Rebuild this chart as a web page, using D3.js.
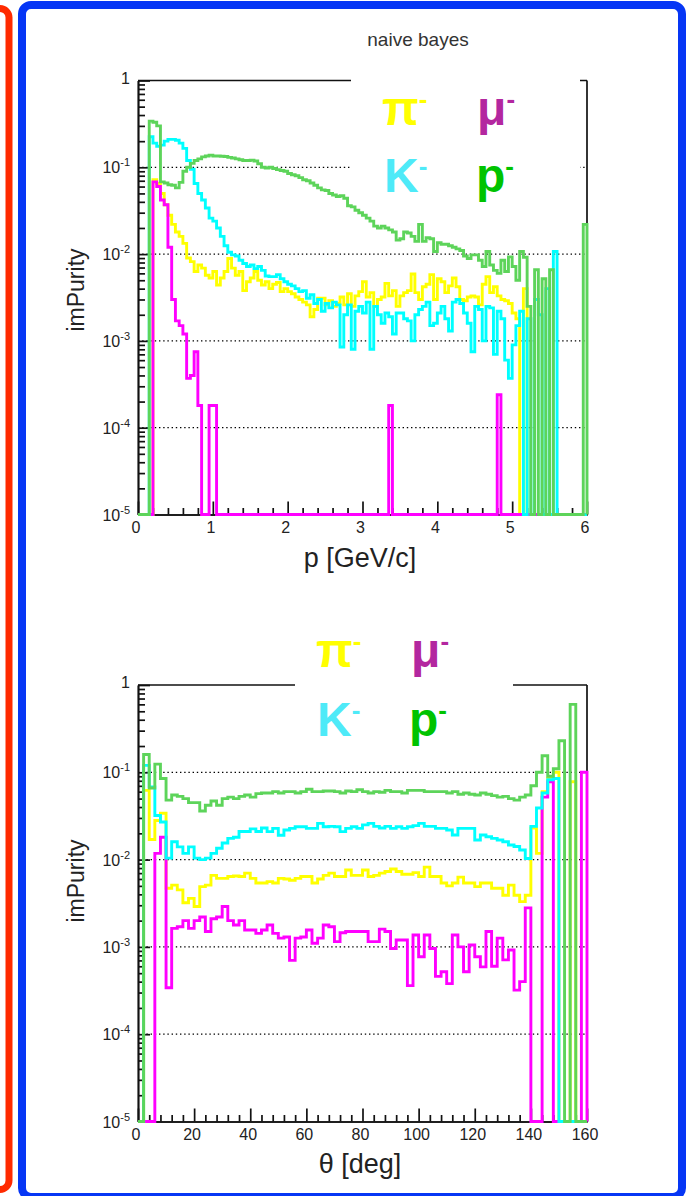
<!DOCTYPE html>
<html>
<head>
<meta charset="utf-8">
<script src="https://cdn.jsdelivr.net/npm/d3@7/dist/d3.min.js"></script>
<style>
html,body{margin:0;padding:0;background:#fff;}
svg{display:block;font-family:"Liberation Sans",Arial,Helvetica,sans-serif;}
</style>
</head>
<body>
<svg id="chart" width="687" height="1196"></svg>
<script>
// ---------- data ----------
const momentumRange = [0, 6];          // GeV/c, 120 bins
const thetaRange = [0, 160];           // deg, 80 bins
const impurityRange = [1e-5, 1];
const momentumTicks = [0, 1, 2, 3, 4, 5, 6];
const thetaTicks = [0, 20, 40, 60, 80, 100, 120, 140, 160];
const decadeExponents = [0, -1, -2, -3, -4, -5];

// impurity vs momentum
const pionVsP = [0,0,0,0,
 0.072,0.065,0.05,0.037,0.028,0.022,0.018,0.016,0.0133,0.009,0.0082,0.0063,0.0075,0.0069,0.0057,0.0053,
 0.0063,0.0044,0.0053,0.0063,0.0089,0.0069,0.0057,0.0063,0.0038,0.0048,0.0053,0.0063,0.005,0.0044,0.0048,0.004,
 0.0045,0.0047,0.0037,0.004,0.0037,0.0035,0.0032,0.003,0.0028,0.0026,0.0019,0.0023,0.0031,0.0031,0.0026,0.0029,
 0.0025,0.0027,0.0032,0.0026,0.0035,0.0025,0.0033,0.0037,
 0.0048,0.0032,0.0036,0.0025,0.003,0.0032,0.0046,0.0033,0.0038,0.0025,0.0033,0.0036,0.0038,0.0059,0.0036,0.003,
 0.0042,0.0045,0.0058,0.003,0.0052,0.0048,0.0036,0.0043,0.0053,0.0042,0.003,0.0029,0.0032,0.0033,0.0032,0.0026,
 0.0045,0.0055,0.0036,0.0042,0.0033,0.003,0.0029,0.0027,0.0021,0.0018,
 0,0.004,
 0,0,0,0,0,0,0,0,0,0,0,0,0,0,0,0];
const muonVsP = [0,0,0,0,
 0.068,0.06,0.042,0.037,0.012,0.003,0.0017,0.0015,0.0012,0.00037,0.0004,0.00075,0.00018,0,0,0.00018,0.00018,
 0,0,0,0,0,0,0,0,0,0,0,0,0,0,0,0,0,0,0,0,0,0,0,0,0,0,0,0,0,0,0,0,0,0,0,0,0,0,0,0,0,0,0,0,0,0,
 0.00018,
 0,0,0,0,0,0,0,0,0,0,0,0,0,0,0,0,0,0,0,0,0,0,0,0,0,0,0,0,
 0.00024,
 0,0,0,0,0,0,0,0,0,0,0,0,0,0,0,0,0,0,0,0,0,0,0];
const kaonVsP = [0,0,0,
 0.225,0.19,0.175,0.18,0.2,0.21,0.21,0.205,0.19,0.165,0.12,0.095,0.065,0.05,0.042,0.034,0.026,0.024,0.02,0.016,
 0.0125,0.0105,0.0098,0.0095,0.0085,0.0078,0.0072,0.0075,0.0068,0.0072,0.0065,0.0056,0.0055,0.0055,0.0058,0.0052,
 0.0048,0.0045,0.0043,0.004,0.0037,0.0038,0.0031,0.0034,0.0027,0.003,0.0022,0.0027,0.0024,0.0028,0.0026,0.00085,
 0.002,0.0026,0.0008,0.0022,0.0025,
 0.0021,0.0028,0.0008,0.0025,0.002,0.0016,0.0021,0.0019,0.0012,0.0021,0.0021,0.0018,0.0017,0.001,0.002,0.0023,
 0.0025,0.0028,0.0015,0.0016,0.0021,0.0025,0.0018,0.0013,0.0028,0.003,0.0027,0.0021,0.0016,0.00075,0.0025,0.0023,
 0.001,0.0025,0.0024,0.0007,0.0022,0.0018,0.0006,0.00037,0.0009,0.0015,0.0022,0,0.0018,0,0.003,0.002,0,0.004,0,0.0107,
 0,0,0,0,0,0,0,0];
const protonVsP = [0,0,0,
 0.34,0.33,0.30,0.068,0.066,0.063,0.062,0.058,0.067,0.09,0.1,0.111,0.12,0.125,0.132,0.135,0.138,0.135,0.135,0.134,
 0.133,0.13,0.128,0.125,0.122,0.12,0.12,0.121,0.118,0.11,0.1,0.098,0.1,0.097,0.094,0.092,0.09,0.085,0.082,0.08,
 0.076,0.072,0.07,0.066,0.062,0.058,0.055,0.054,0.05,0.048,0.046,0.047,0.044,0.036,0.035,0.032,0.03,
 0.028,0.026,0.024,0.021,0.02,0.021,0.02,0.019,0.018,0.0145,0.015,0.018,0.0175,0.016,0.014,0.022,0.014,0.0155,
 0.015,0.0107,0.0135,0.013,0.013,0.0125,0.012,0.0115,0.011,0.0095,0.0089,0.0098,0.0098,0.0085,0.0072,0.0107,
 0.0075,0.0065,0.006,0.0085,0.0063,0.0093,0.0072,0.005,0.0107,0.0092,0.0025,0,0.0066,0,0.0052,0,0.0066,0,
 0,0,0,0,0,0,0,
 0.022];

// impurity vs polar angle
const pionVsTheta = [0,0.062,0.017,0.028,0.034,0.0047,0.0051,0.0045,0.0032,0.0036,
 0.0029,0.0049,0.0051,0.0066,0.0061,0.0061,0.0064,0.0065,0.0064,0.007,
 0.0061,0.0054,0.0054,0.0056,0.0054,0.0061,0.006,0.0058,0.0061,0.0064,
 0.0064,0.0054,0.006,0.0066,0.007,0.0064,0.0064,0.0076,0.0066,0.0066,
 0.0076,0.0064,0.0066,0.007,0.0073,0.0078,0.0073,0.0068,0.0068,0.0071,
 0.0064,0.0082,0.0064,0.0064,0.0054,0.005,0.0054,0.0063,0.0054,0.0054,
 0.0049,0.0054,0.0054,0.0047,0.0047,0.0039,0.0051,0.0039,0.0033,0.0039,
 0.023,0.0118,0.06,0.085,0.1,0,0,0.078,0,0];
const muonVsTheta = [0,0,0,0.0118,0.018,0.00034,0.00163,0.0017,0.002,0.00163,
 0.002,0.0022,0.0015,0.0021,0.0022,0.0029,0.002,0.00178,0.002,0.00156,
 0.00156,0.00143,0.00156,0.00178,0.00143,0.00126,0.0013,0.0007,0.00126,0.0013,
 0.00156,0.0011,0.00126,0.00178,0.0017,0.00115,0.00145,0.0015,0.0015,0.0015,
 0.0015,0.00115,0.00115,0.0016,0.0015,0.00096,0.0012,0.0012,0.00036,0.00137,
 0.00077,0.00137,0.00096,0.00046,0.00052,0.00038,0.00137,0.001,0.00052,0.00105,
 0.00077,0.00059,0.0015,0.0006,0.00126,0.00071,0.00092,0.00032,0.0004,0.0028,
 0,0,0.052,0.078,0,0,0,0,0,0.1];
const kaonVsTheta = [0,0.12,0.068,0.032,0.027,0.0104,0.016,0.014,0.0118,0.014,
 0.0104,0.01,0.0104,0.0118,0.0135,0.0155,0.0175,0.018,0.021,0.021,
 0.0225,0.021,0.023,0.0209,0.0228,0.019,0.0218,0.0228,0.0238,0.0238,
 0.0228,0.0228,0.026,0.0238,0.024,0.0238,0.0209,0.0228,0.0238,0.0228,
 0.025,0.026,0.024,0.023,0.024,0.0228,0.0238,0.0228,0.0238,0.0245,
 0.026,0.024,0.024,0.0228,0.0228,0.0218,0.0191,0.0228,0.0228,0.0228,
 0.0168,0.0191,0.0183,0.0175,0.0168,0.016,0.0147,0.0141,0.0129,0.0103,
 0.024,0.039,0.058,0.082,0.085,0,0,0,0,0];
const protonVsTheta = [0,0.16,0.066,0.124,0.085,0.048,0.055,0.053,0.05,0.045,
 0.045,0.036,0.042,0.047,0.042,0.05,0.052,0.05,0.053,0.055,
 0.052,0.057,0.058,0.058,0.06,0.058,0.06,0.06,0.058,0.06,
 0.064,0.06,0.06,0.061,0.061,0.06,0.058,0.061,0.06,0.063,
 0.06,0.058,0.06,0.059,0.062,0.06,0.06,0.058,0.062,0.062,
 0.062,0.06,0.06,0.06,0.06,0.058,0.06,0.056,0.058,0.056,
 0.055,0.058,0.056,0.054,0.052,0.053,0.05,0.048,0.052,0.055,
 0.07,0.10,0.155,0.09,0.11,0.23,0,0.6,0,0];

const legendLabels = ["π", "μ", "K", "p"];

// ---------- styling ----------
const lineColors = { pion: "#ffff00", muon: "#ff00ff", kaon: "#00ffff", proton: "#5dd45a" };
const legendColors = { pion: "#ffff00", muon: "#b3279f", kaon: "#4eeaf8", proton: "#00c300" };

const svg = d3.select("#chart");

// outer slide frames
svg.append("rect").attr("x", -60).attr("y", 8.5).attr("width", 69).attr("height", 1181)
  .attr("rx", 9).attr("fill", "none").attr("stroke", "#ff2a00").attr("stroke-width", 7);
svg.append("rect").attr("x", 22).attr("y", 5).attr("width", 660).attr("height", 1192)
  .attr("rx", 9).attr("fill", "none").attr("stroke", "#0636f5").attr("stroke-width", 8);

svg.append("text").attr("x", 418).attr("y", 46).attr("text-anchor", "middle")
  .attr("font-size", 19).attr("fill", "#333").text("naive bayes");

function drawPanel(cfg) {
  const g = svg.append("g");
  const x = d3.scaleLinear().domain(cfg.xDomain).range([cfg.left, cfg.right]);
  const y = d3.scaleLog().domain(impurityRange).range([cfg.bottom, cfg.top]);
  const floor = impurityRange[0];

  // dotted grid at decades
  const gridDecades = decadeExponents.filter(e => e < 0 && e > -5).map(e => Math.pow(10, e));
  g.append("g").selectAll("line").data(gridDecades).join("line")
    .attr("x1", cfg.left).attr("x2", cfg.right)
    .attr("y1", d => y(d)).attr("y2", d => y(d))
    .attr("stroke", "#000").attr("stroke-width", 1.2).attr("stroke-dasharray", "1.4,2.8");

  // frame: top and right edges
  g.append("line").attr("x1", cfg.left).attr("x2", cfg.right).attr("y1", cfg.top).attr("y2", cfg.top)
    .attr("stroke", "#111").attr("stroke-width", 1.7);
  g.append("line").attr("x1", cfg.right).attr("x2", cfg.right).attr("y1", cfg.top).attr("y2", cfg.bottom)
    .attr("stroke", "#111").attr("stroke-width", 1.7);

  // y axis: major and minor ticks pointing into the frame
  const minorY = [];
  for (let e = -5; e < 0; e++) for (let m = 2; m <= 9; m++) minorY.push(m * Math.pow(10, e));
  const yAxisMajor = d3.axisLeft(y).tickValues(decadeExponents.map(e => Math.pow(10, e)))
    .tickSizeInner(-12).tickSizeOuter(0).tickFormat("");
  const yAxisMinor = d3.axisLeft(y).tickValues(minorY).tickSizeInner(-7).tickSizeOuter(0).tickFormat("");
  const ya = g.append("g").attr("transform", `translate(${cfg.left},0)`).call(yAxisMajor);
  const ym = g.append("g").attr("transform", `translate(${cfg.left},0)`).call(yAxisMinor);
  [ya, ym].forEach(a => { a.selectAll("line,path").attr("stroke", "#111").attr("stroke-width", 1.7); });

  // x axis: major and minor ticks pointing up
  const minorX = d3.range(cfg.xDomain[0], cfg.xDomain[1] + 1e-9, cfg.minorStep)
    .filter(v => !cfg.xTicks.some(t => Math.abs(t - v) < 1e-6));
  const xa = g.append("g").attr("transform", `translate(0,${cfg.bottom})`)
    .call(d3.axisBottom(x).tickValues(cfg.xTicks).tickSizeInner(-13).tickSizeOuter(0).tickFormat(""));
  const xm = g.append("g").attr("transform", `translate(0,${cfg.bottom})`)
    .call(d3.axisBottom(x).tickValues(minorX).tickSizeInner(-6.5).tickSizeOuter(0).tickFormat(""));
  [xa, xm].forEach(a => { a.selectAll("line,path").attr("stroke", "#111").attr("stroke-width", 1.7); });

  // tick labels
  decadeExponents.forEach(e => {
    const t = g.append("text").attr("x", cfg.left - 8)
      .attr("y", y(Math.pow(10, e)) + (e === 0 ? 3 : 6))
      .attr("text-anchor", "end").attr("font-size", 16).attr("fill", "#222");
    if (e === 0) t.text("1");
    else {
      t.append("tspan").text("10");
      t.append("tspan").attr("dy", -7).attr("font-size", 11).text(String(e));
    }
  });
  g.append("g").selectAll("text").data(cfg.xTicks).join("text")
    .attr("x", d => x(d) - 2).attr("y", cfg.bottom + 18)
    .attr("text-anchor", "middle").attr("font-size", 16).attr("fill", "#222")
    .text(d => String(d));

  // axis titles
  g.append("text").attr("x", 360).attr("y", cfg.xTitleY).attr("text-anchor", "middle")
    .attr("font-size", 27).attr("fill", "#222").text(cfg.xTitle);
  g.append("text").attr("transform", `translate(84,${cfg.yTitleMid}) rotate(-90)`)
    .attr("text-anchor", "middle").attr("font-size", 23).attr("fill", "#222").text("imPurity");

  // histograms as step outlines
  const clipId = "clip" + cfg.id;
  svg.append("clipPath").attr("id", clipId).append("rect")
    .attr("x", cfg.left).attr("y", cfg.top - 2).attr("width", cfg.right - cfg.left + 2)
    .attr("height", cfg.bottom - cfg.top + 3.5);
  const nb = cfg.series[0].values.length;
  const edge = i => cfg.xDomain[0] + (cfg.xDomain[1] - cfg.xDomain[0]) * i / nb;
  const line = d3.line().x(d => x(d[0])).y(d => y(Math.max(d[1], floor))).curve(d3.curveStepAfter);
  const hg = g.append("g").attr("clip-path", `url(#${clipId})`);
  cfg.series.forEach(s => {
    const pts = [[edge(0), floor]];
    s.values.forEach((v, i) => pts.push([edge(i), v]));
    pts.push([edge(nb), s.values[nb - 1]]);
    pts.push([edge(nb), floor]);
    hg.append("path").attr("d", line(pts)).attr("fill", "none")
      .attr("stroke", s.color).attr("stroke-width", 2.9).attr("stroke-linejoin", "miter");
  });

  // legend pad
  const lb = cfg.legendBox;
  g.append("rect").attr("x", lb[0]).attr("y", lb[1]).attr("width", lb[2] - lb[0]).attr("height", lb[3] - lb[1])
    .attr("fill", "#fff");
  cfg.legend.forEach(item => {
    const t = g.append("text").attr("x", item.x).attr("y", item.y)
      .attr("font-size", 48).attr("font-weight", "bold").attr("fill", item.color);
    t.append("tspan").text(item.label);
    t.append("tspan").attr("dy", -17).attr("font-size", 26).text("-");
  });
}

drawPanel({
  id: "p", left: 138, right: 587, top: 80.5, bottom: 514.5,
  xDomain: momentumRange, xTicks: momentumTicks, minorStep: 0.2,
  xTitle: "p [GeV/c]", xTitleY: 567, yTitleMid: 290,
  series: [
    { values: pionVsP, color: lineColors.pion },
    { values: muonVsP, color: lineColors.muon },
    { values: kaonVsP, color: lineColors.kaon },
    { values: protonVsP, color: lineColors.proton }
  ],
  legendBox: [351, 62, 580, 203],
  legend: [
    { label: legendLabels[0], x: 382, y: 125, color: legendColors.pion },
    { label: legendLabels[1], x: 477, y: 125, color: legendColors.muon },
    { label: legendLabels[2], x: 384, y: 192, color: legendColors.kaon },
    { label: legendLabels[3], x: 476, y: 192, color: legendColors.proton }
  ]
});

drawPanel({
  id: "t", left: 138, right: 587, top: 685, bottom: 1121.5,
  xDomain: thetaRange, xTicks: thetaTicks, minorStep: 4,
  xTitle: "θ [deg]", xTitleY: 1173, yTitleMid: 881,
  series: [
    { values: pionVsTheta, color: lineColors.pion },
    { values: muonVsTheta, color: lineColors.muon },
    { values: kaonVsTheta, color: lineColors.kaon },
    { values: protonVsTheta, color: lineColors.proton }
  ],
  legendBox: [295, 615, 513, 758],
  legend: [
    { label: legendLabels[0], x: 316, y: 667, color: legendColors.pion },
    { label: legendLabels[1], x: 411, y: 667, color: legendColors.muon },
    { label: legendLabels[2], x: 317, y: 736, color: legendColors.kaon },
    { label: legendLabels[3], x: 409, y: 736, color: legendColors.proton }
  ]
});
</script>
</body>
</html>
